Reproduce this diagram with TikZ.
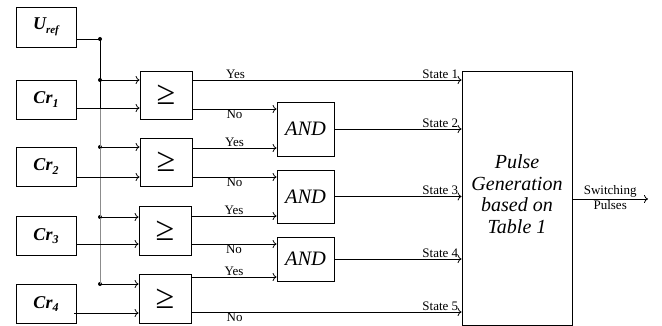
\documentclass[tikz,border=0pt]{standalone}
\usepackage{fontspec}
\setmainfont{Liberation Serif}
\usetikzlibrary{arrows.meta}
\begin{document}
\begin{tikzpicture}[x=1pt,y=-1pt,
  line width=0.8pt,
  arr/.style={-{To[length=4pt,width=8pt]}},
  srcbox/.style={draw,minimum width=60pt,minimum height=39pt,inner sep=0pt,font=\fontsize{18}{18}\selectfont\bfseries\itshape},
  cmpbox/.style={draw,minimum width=52pt,minimum height=48pt,inner sep=0pt,font=\fontsize{34}{34}\selectfont},
  andbox/.style={draw,minimum width=57pt,inner sep=0pt,font=\fontsize{20.5}{20.5}\selectfont\itshape},
  lbl/.style={font=\fontsize{13}{13}\selectfont,inner sep=1pt},
  dot/.style={circle,fill,inner sep=0pt,minimum size=4pt}]
\useasboundingbox (0,0) rectangle (662,326);
% sources
\node[srcbox,minimum height=40pt] (U) at (46,27) {U\raisebox{-0.45ex}{\fontsize{11}{11}\selectfont ref}};
\node[srcbox] (C1) at (46,99.5) {Cr\raisebox{-0.4ex}{\fontsize{12}{12}\selectfont 1}};
\node[srcbox] (C2) at (46,166.5) {Cr\raisebox{-0.4ex}{\fontsize{12}{12}\selectfont 2}};
\node[srcbox] (C3) at (46,236) {Cr\raisebox{-0.4ex}{\fontsize{12}{12}\selectfont 3}};
\node[srcbox] (C4) at (46,304) {Cr\raisebox{-0.4ex}{\fontsize{12}{12}\selectfont 4}};
% comparators
\node[cmpbox] (K1) at (166,95) {≥};
\node[cmpbox] (K2) at (166,162) {≥};
\node[cmpbox,minimum height=49pt] (K3) at (165,230.5) {≥};
\node[cmpbox,minimum height=49pt] (K4) at (165,298.5) {≥};
% AND gates
\node[andbox,minimum height=54pt] (A1) at (305.5,129) {AND};
\node[andbox,minimum height=53pt] (A2) at (305.5,196.5) {AND};
\node[andbox,minimum height=44pt] (A3) at (305.5,259) {AND};
% pulse generation
\node[draw,minimum width=110pt,minimum height=254pt,inner sep=0pt] (P) at (517,198) {};
\node[font=\fontsize{20}{21.5}\selectfont\itshape,align=center] (PT) at (517,194) {Pulse\\Generation\\based on\\Table 1};
% bus
\node[dot] (d0) at (100,39) {};
\node[dot] (d1) at (100,80) {};
\node[dot] (d2) at (100,147) {};
\node[dot] (d3) at (100,217) {};
\node[dot] (d4) at (100,284) {};
\coordinate (b1) at (100,108);
\draw (U.east |- d0) -- (d0.center) -- (b1);
\draw[black!45] (b1) -- (d4.center);
% reference inputs
\draw[arr] (d1.center) -- (K1.west |- d1);
\draw[arr] (d2.center) -- (K2.west |- d2);
\draw[arr] (d3.center) -- (K3.west |- d3);
\draw[arr] (d4.center) -- (K4.west |- d4);
% carrier inputs
\coordinate (i1) at (0,108);
\coordinate (i2) at (0,177);
\coordinate (i3) at (0,244);
\coordinate (i4) at (0,313);
\draw[arr] (C1.east |- i1) -- (K1.west |- i1);
\draw[arr] (C2.east |- i2) -- (K2.west |- i2);
\draw[arr] (C3.east |- i3) -- (K3.west |- i3);
\draw[arr] ([xshift=-2pt]C4.east |- i4) -- (K4.west |- i4);
% comparator outputs
\coordinate (o1) at (0,80);
\coordinate (o2) at (0,109);
\coordinate (o3) at (0,148);
\coordinate (o4) at (0,177);
\coordinate (o5) at (0,216);
\coordinate (o6) at (0,244);
\coordinate (o7) at (0,277);
\coordinate (o8) at (0,312);
\draw[arr] (K1.east |- o1) -- node[lbl,above,pos=0.16]{Yes} node[lbl,above left,pos=1,xshift=-2pt]{State 1} (P.west |- o1);
\draw[arr] (K1.east |- o2) -- node[lbl,below,pos=0.5]{No} (A1.west |- o2);
\draw[arr] (K2.east |- o3) -- node[lbl,above,pos=0.5]{Yes} (A1.west |- o3);
\draw[arr] (K2.east |- o4) -- node[lbl,below,pos=0.5]{No} (A2.west |- o4);
\draw[arr] (K3.east |- o5) -- node[lbl,above,pos=0.5]{Yes} (A2.west |- o5);
\draw[arr] (K3.east |- o6) -- node[lbl,below,pos=0.5]{No} (A3.west |- o6);
\draw[arr] (K4.east |- o7) -- node[lbl,above,pos=0.5]{Yes} (A3.west |- o7);
\draw[arr] (K4.east |- o8) -- node[lbl,below,pos=0.16]{No} node[lbl,above left,pos=1,xshift=-2pt]{State 5} (P.west |- o8);
% AND outputs
\draw[arr] (A1.east) -- node[lbl,above left,pos=1,xshift=-2pt]{State 2} (P.west |- A1.east);
\draw[arr] (A2.east) -- node[lbl,above left,pos=1,xshift=-2pt]{State 3} (P.west |- A2.east);
\draw[arr] (A3.east) -- node[lbl,above left,pos=1,xshift=-2pt]{State 4} (P.west |- A3.east);
% output
\coordinate (out) at (648,199);
\draw[arr] (P.east |- out) -- node[lbl,above]{Switching} node[lbl,below]{Pulses} (out);
\end{tikzpicture}
\end{document}
